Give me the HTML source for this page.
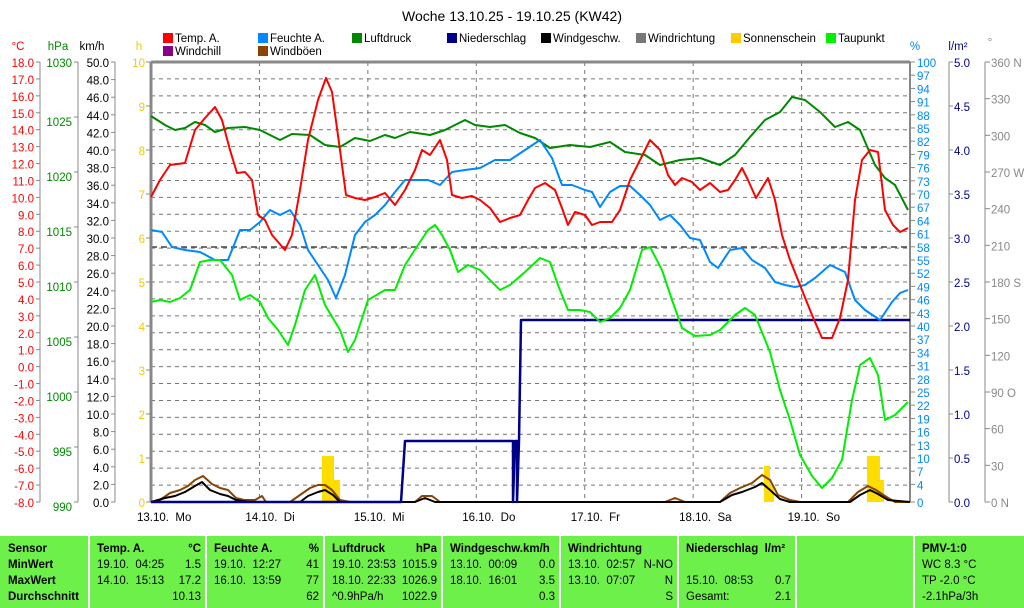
<!DOCTYPE html>
<html><head><meta charset="utf-8"><style>
body{margin:0;background:#fff;width:1024px;height:608px;overflow:hidden;font-family:"Liberation Sans",sans-serif}
svg text{font-family:"Liberation Sans",sans-serif;font-size:11.5px}
#tbl{position:absolute;left:0;top:536px;width:1024px;height:72px;background:#6ef04a}
.c{position:absolute;top:0;height:72px;border-left:2px solid #fff;font-size:11.5px;line-height:16px;padding-top:5px;box-sizing:border-box}
.c b{font-weight:bold}
.r{position:absolute;right:4px}
</style></head><body>
<svg id="s" width="1024" height="536" style="position:absolute;left:0;top:0"></svg>
<div id="tbl">
<div class="c" style="left:0;width:88px;border:0;padding-left:8px"><b>Sensor<br>MinWert<br>MaxWert<br>Durchschnitt</b></div>
<div class="c" style="left:88px;width:117px;padding-left:7px"><b>Temp. A.</b><span class="r" style="top:5px"><b>°C</b></span><br>19.10.&nbsp; 04:25<span class="r" style="top:21px">1.5</span><br>14.10.&nbsp; 15:13<span class="r" style="top:37px">17.2</span><br><span class="r" style="top:53px">10.13</span></div>
<div class="c" style="left:205px;width:118px;padding-left:7px"><b>Feuchte A.</b><span class="r" style="top:5px"><b>%</b></span><br>19.10.&nbsp; 12:27<span class="r" style="top:21px">41</span><br>16.10.&nbsp; 13:59<span class="r" style="top:37px">77</span><br><span class="r" style="top:53px">62</span></div>
<div class="c" style="left:323px;width:118px;padding-left:7px"><b>Luftdruck</b><span class="r" style="top:5px"><b>hPa</b></span><br>19.10.&nbsp;23:53<span class="r" style="top:21px">1015.9</span><br>18.10.&nbsp;22:33<span class="r" style="top:37px">1026.9</span><br>^0.9hPa/h<span class="r" style="top:53px">1022.9</span></div>
<div class="c" style="left:441px;width:118px;padding-left:7px;white-space:nowrap;overflow:hidden"><b>Windgeschw.km/h</b><br>13.10.&nbsp; 00:09<span class="r" style="top:21px">0.0</span><br>18.10.&nbsp; 16:01<span class="r" style="top:37px">3.5</span><br><span class="r" style="top:53px">0.3</span></div>
<div class="c" style="left:559px;width:118px;padding-left:7px"><b>Windrichtung</b><br>13.10.&nbsp; 02:57<span class="r" style="top:21px">N-NO</span><br>13.10.&nbsp; 07:07<span class="r" style="top:37px">N</span><br><span class="r" style="top:53px">S</span></div>
<div class="c" style="left:677px;width:118px;padding-left:7px"><b>Niederschlag&nbsp; l/m²</b><br><br>15.10.&nbsp; 08:53<span class="r" style="top:37px">0.7</span><br>Gesamt:<span class="r" style="top:53px">2.1</span></div>
<div class="c" style="left:795px;width:118px"></div>
<div class="c" style="left:913px;width:111px;padding-left:7px"><b>PMV-1:0</b><br>WC 8.3 °C<br>TP -2.0 °C<br>-2.1hPa/3h</div>
</div>
<script>
const s=document.getElementById('s');let h='';
const T=(x,y,t,c,a)=>{h+=`<text x="${x}" y="${y}" fill="${c}" text-anchor="${a||'start'}">${t}</text>`};
const L=(x1,y1,x2,y2,c,w,d)=>{h+=`<line x1="${x1}" y1="${y1}" x2="${x2}" y2="${y2}" stroke="${c}" stroke-width="${w||1}" ${d?'stroke-dasharray="'+d+'"':''}/>`};
h+=`<text x="512" y="21" text-anchor="middle" fill="#000" style="font-size:14px">Woche 13.10.25 - 19.10.25 (KW42)</text>`;
const X0=151,X1=910,Y0=62,Y1=502;
for(let i=1;i<26;i++){let y=Y0+i*16.923;L(X0,y,X1,y,'#777',1,'4,4')}
for(let d=1;d<7;d++){let x=X0+d*108.43;L(x,Y0,x,Y1,'#777',1,'4,4')}
L(X0,247,X1,247,'#444',1.5,'6,4');
L(X0,Y0,X1,Y0,'#888',3);L(X0,Y0,X0,Y1,'#888',3);L(X1,Y0,X1,Y1,'#888',2);
T(18,50,'°C','#f00','middle');T(58,50,'hPa','#080','middle');T(92,50,'km/h','#000','middle');T(139,50,'h','#ec0','middle');
L(40,Y0,40,Y1,'#888');L(78,Y0,78,Y1,'#888');L(115,Y0,115,Y1,'#888');
for(let i=0;i<=26;i++){let y=Y0+i*16.923;L(36,y,40,y,'#888');T(34,y+5,(18-i).toFixed(1),'#f00','end')}
for(let i=0;i<=8;i++){let y=Y0+i*55;L(74,y,78,y,'#888');T(72,y+5+(i?4:0),1030-5*i,'#080','end')}
for(let i=0;i<=25;i++){let y=Y0+i*17.6;L(111,y,115,y,'#888');T(109,y+5,(50-2*i).toFixed(1),'#000','end')}
for(let i=0;i<=10;i++){let y=Y0+i*44;L(146,y,151,y,'#888');T(145,y+5,10-i,'#ec0','end')}
T(915,50,'%','#08f','middle');T(958,50,'l/m²','#008','middle');T(990,46,'°','#888','middle');
L(949,Y0,949,Y1,'#888');L(985,Y0,985,Y1,'#888');
for(let v=100;v>=4;v-=3){let y=Y0+(100-v)*4.4;L(910,y,915,y,'#888');T(917,y+5,v,'#08f')}
L(910,Y1,915,Y1,'#888');T(917,Y1+5,0,'#08f');
for(let i=0;i<=10;i++){let y=Y0+i*44;L(949,y,953,y,'#888');T(954,y+5,(5-i*0.5).toFixed(1),'#008')}
const dl={360:'360 N',270:'270 W',180:'180 S',90:'90 O',0:'0 N'};
for(let v=360;v>=0;v-=30){let y=Y0+(360-v)*440/360;L(985,y,990,y,'#888');T(991,y+5,dl[v]||v,'#888')}
['13.10.  Mo','14.10.  Di','15.10.  Mi','16.10.  Do','17.10.  Fr','18.10.  Sa','19.10.  So'].forEach((t,i)=>{h+=`<text x="${X0+i*108.43-14}" y="521" fill="#000" xml:space="preserve">${t}</text>`});
const lg=[[163,'#f00','Temp. A.'],[258,'#08f','Feuchte A.'],[352,'#080','Luftdruck'],[447,'#008','Niederschlag'],[541,'#000','Windgeschw.'],[636,'#777','Windrichtung'],[731,'#fc0','Sonnenschein'],[826,'#0e0','Taupunkt']];
lg.forEach(([x,c,t])=>{h+=`<rect x="${x}" y="33" width="10" height="10" fill="${c}"/>`;T(x+12,42,t,'#000')});
[[163,'#808','Windchill'],[258,'#840','Windböen']].forEach(([x,c,t])=>{h+=`<rect x="${x}" y="46" width="10" height="10" fill="${c}"/>`;T(x+12,55,t,'#000')});
[[322,12,456],[334,6,480],[764,6,466],[770,4,486],[867,13,456],[880,4,480]].forEach(([x,w,y])=>{h+=`<rect x="${x}" y="${y}" width="${w}" height="${Y1-y}" fill="#fd0"/>`});
const P=(pts,c,w)=>{h+=`<polyline fill="none" stroke="${c}" stroke-width="${w||2}" stroke-linejoin="round" points="${pts}"/>`};
P('151,502,160,500,170,493,180,490,188,486,195,480,203,476,212,484,220,488,228,490,236,498,244,500,255,500,262,496,266,502,290,502,300,495,310,488,318,485,325,485,332,490,340,500,350,502,415,502,422,496,432,496,440,502,665,502,675,498,685,502,720,502,730,493,740,488,752,483,762,475,770,480,778,495,790,500,800,502,848,502,858,492,868,486,876,490,885,496,895,502,910,502','#840',2);
P('151,502,165,498,175,496,185,492,195,486,202,482,210,490,220,494,228,496,236,500,250,502,300,502,308,496,318,492,325,490,333,495,340,502,415,502,425,498,435,502,720,502,732,495,742,492,755,487,762,483,770,490,780,499,790,502,850,502,860,495,870,490,878,494,888,500,910,502','#000',2);
P('151,502,401,502,405,441,513,441,513,502,515,441,517,441,517,502,519,441,521,320,910,320','#008',2.5);
P('151,116,165,125,175,130,185,128,195,122,205,125,215,132,228,128,245,127,260,130,280,140,292,134,310,135,325,145,340,147,355,138,370,141,385,135,395,138,410,132,430,135,445,130,455,125,465,120,475,125,490,127,505,125,520,133,535,138,550,148,570,145,590,147,610,142,625,152,645,155,660,165,680,160,700,158,720,165,735,155,750,137,765,120,780,112,792,97,805,100,820,112,835,127,848,122,860,130,875,165,885,178,895,185,908,210','#080');
P('151,230,162,232,172,247,185,250,200,252,215,260,228,260,240,230,250,230,260,222,270,210,280,215,290,210,300,225,308,250,318,265,328,280,336,298,345,275,355,235,365,222,375,215,385,205,395,192,405,180,415,180,428,180,440,185,452,172,465,170,480,168,495,160,510,160,525,150,540,140,552,158,562,185,572,185,585,190,592,192,600,207,610,192,620,186,630,186,640,195,650,205,660,220,670,215,680,225,690,238,700,240,710,262,718,268,730,250,742,248,752,260,765,268,775,282,785,285,795,287,805,285,815,278,830,265,845,272,855,300,865,310,880,320,892,302,900,293,908,290','#08f');
P('151,302,160,300,170,302,180,298,190,290,200,262,210,260,220,260,232,275,240,300,250,295,260,302,268,318,278,330,288,345,295,325,305,290,315,275,325,305,340,330,348,352,355,340,368,300,385,290,395,290,405,265,418,245,428,230,435,225,442,235,450,250,458,272,468,265,480,270,490,280,500,290,510,285,525,272,540,258,550,262,558,285,568,310,580,310,590,312,600,322,610,318,620,308,630,290,642,250,650,247,662,270,672,300,682,328,695,336,710,335,720,330,735,315,745,308,755,315,770,352,780,390,790,420,800,455,812,476,822,488,832,478,842,460,852,400,860,365,870,358,878,375,885,420,895,415,908,402','#0e0');
P('151,197,160,180,170,165,185,163,195,130,205,118,215,107,222,120,230,150,237,173,245,172,252,180,258,215,265,220,272,235,285,250,292,235,300,190,308,140,318,100,326,78,332,92,340,150,346,195,355,198,365,200,375,197,385,193,395,205,405,190,415,170,422,150,430,155,440,140,447,160,452,195,462,198,472,196,480,200,490,208,500,222,510,218,520,215,528,200,535,188,545,183,555,190,562,208,568,225,575,212,585,215,592,225,600,222,612,222,620,210,630,180,640,160,650,140,660,150,668,175,675,185,682,178,692,182,700,190,710,183,720,192,728,190,735,180,742,168,748,180,756,198,762,188,768,178,775,200,782,235,790,260,800,285,812,315,822,338,832,338,840,318,848,280,855,200,862,160,870,150,878,152,885,210,893,225,900,232,908,228','#f00');
s.innerHTML=h;
</script>
</body></html>
